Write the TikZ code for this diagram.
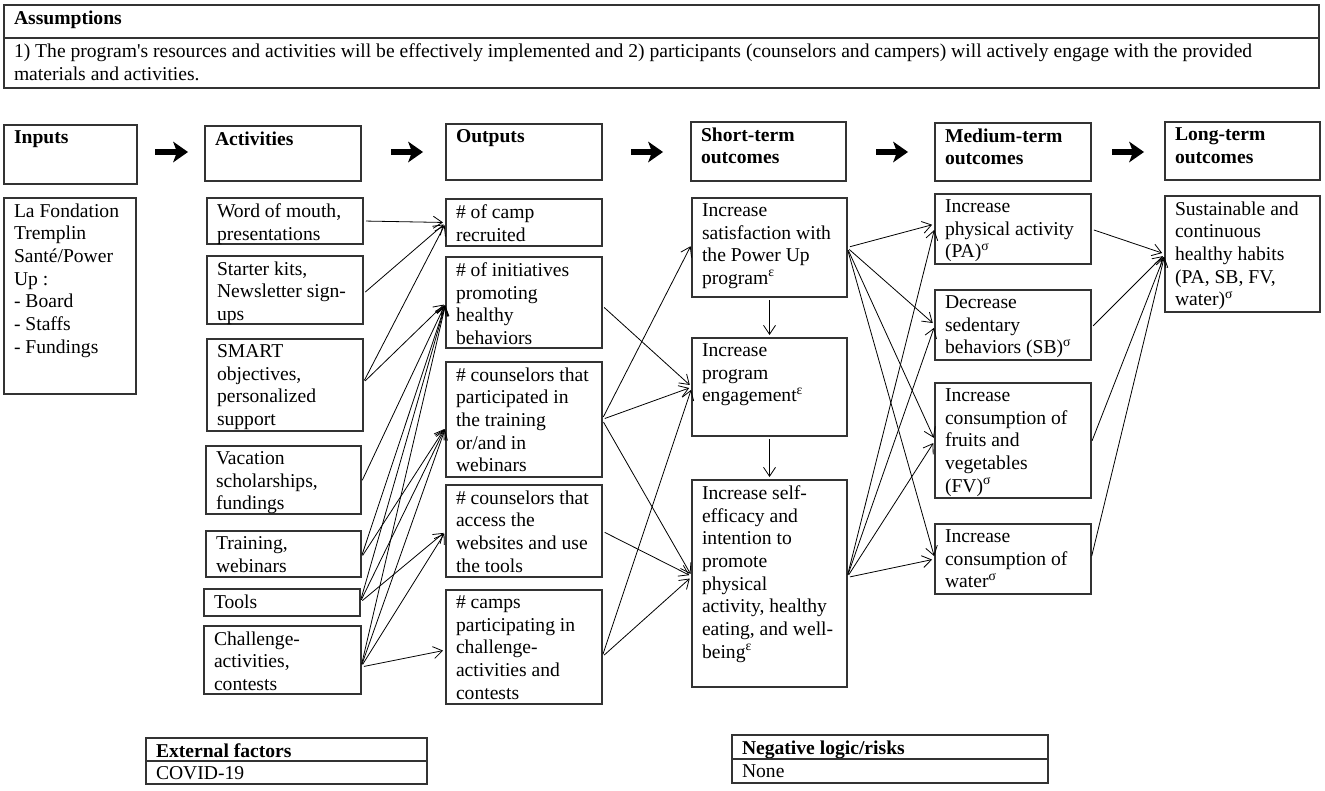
\documentclass[tikz,border=0pt]{standalone}
\usepackage{fontspec}
\setmainfont{Liberation Serif}
\usetikzlibrary{arrows.meta,calc}
\tikzset{
  bx/.style={draw=black!80, line width=1.1pt, inner sep=0pt, outer sep=0pt},
  tx/.style={inner sep=0pt, outer sep=0pt, align=left, font=\fontsize{19.6}{22.7}\selectfont},
  con/.style={-{Straight Barb[length=9pt,width=12pt]}, line width=0.8pt, shorten >=3pt, shorten <=3pt},
  hdr/.style={line width=5.5pt, -{Stealth[length=15pt,width=21pt,inset=4pt,line width=0pt]}}
}
\newcommand\Bx[6]{%
  \node[bx, anchor=north west, minimum width={#4-#2}, minimum height={#5-#3}] (#1) at (#2,-#3) {};
  \node[tx, anchor=north west] (#1-t) at ([xshift=10pt,yshift=-5.5pt]#1.north west) {#6};}
\begin{document}
\begin{tikzpicture}[x=1pt,y=1pt]
\useasboundingbox (0,0) rectangle (1325,-790);
% assumptions
\Bx{asm1}{4}{5}{1319}{38}{\textbf{Assumptions}}
\Bx{asm2}{4}{38}{1319}{88}{1) The program\textquotesingle s resources and activities will be effectively implemented and 2) participants (counselors and campers) will actively engage with the provided\\materials and activities.}
% headers
\Bx{inp}{4}{125}{137}{184}{\textbf{Inputs}}
\Bx{act}{205}{126}{361}{181}{\textbf{Activities}}
\Bx{out}{446}{124}{602}{180}{\textbf{Outputs}}
\Bx{st}{691}{122}{846}{181}{\textbf{Short-term}\\\textbf{outcomes}}
\Bx{mt}{935}{123}{1091}{181}{\textbf{Medium-term}\\\textbf{outcomes}}
\Bx{lt}{1165}{122}{1320}{180}{\textbf{Long-term}\\\textbf{outcomes}}
% header arrows
\coordinate (h1s) at (155,-152); \coordinate (h1e) at (188,-152);
\coordinate (h2s) at (391,-152); \coordinate (h2e) at (423,-152);
\coordinate (h3s) at (631,-152); \coordinate (h3e) at (663,-152);
\coordinate (h4s) at (876,-152); \coordinate (h4e) at (908,-152);
\coordinate (h5s) at (1112,-152); \coordinate (h5e) at (1144,-152);
\draw[hdr] (h1s) -- (h1e);
\draw[hdr] (h2s) -- (h2e);
\draw[hdr] (h3s) -- (h3e);
\draw[hdr] (h4s) -- (h4e);
\draw[hdr] (h5s) -- (h5e);
% inputs
\Bx{inpb}{4}{198}{136}{394}{La Fondation\\Tremplin\\Santé/Power\\Up :\\- Board\\- Staffs\\- Fundings}
% activities
\Bx{a1}{207}{198}{363}{244}{Word of mouth,\\presentations}
\Bx{a2}{207}{256}{363}{324}{Starter kits,\\Newsletter sign-\\ups}
\Bx{a3}{207}{339}{363}{431}{SMART\\objectives,\\personalized\\support}
\Bx{a4}{206}{446}{361}{514}{Vacation\\scholarships,\\fundings}
\Bx{a5}{206}{531}{361}{577}{Training,\\webinars}
\Bx{a6}{204}{589}{360}{616}{Tools}
\Bx{a7}{204}{626}{361}{694}{Challenge-\\activities,\\contests}
% outputs
\Bx{o1}{446}{199}{602}{246}{\# of camp\\recruited}
\Bx{o2}{446}{257}{602}{348}{\# of initiatives\\promoting\\healthy\\behaviors}
\Bx{o3}{446}{362}{602}{477}{\# counselors that\\participated in\\the training\\or/and in\\webinars}
\Bx{o4}{446}{485}{602}{577}{\# counselors that\\access the\\websites and use\\the tools}
\Bx{o5}{446}{590}{602}{704}{\# camps\\participating in\\challenge-\\activities and\\contests}
% short-term
\Bx{s1}{692}{198}{847}{297}{Increase\\satisfaction with\\the Power Up\\program\textsuperscript{ε}}
\Bx{s2}{692}{338}{847}{436}{Increase\\program\\engagement\textsuperscript{ε}}
\Bx{s3}{692}{480}{847}{687}{Increase self-\\efficacy and\\intention to\\promote\\physical\\activity, healthy\\eating, and well-\\being\textsuperscript{ε}}
% medium-term
\Bx{m1}{935}{194}{1091}{264}{Increase\\physical activity\\(PA)\textsuperscript{σ}}
\Bx{m2}{935}{290}{1091}{360}{Decrease\\sedentary\\behaviors (SB)\textsuperscript{σ}}
\Bx{m3}{935}{383}{1091}{498}{Increase\\consumption of\\fruits and\\vegetables\\(FV)\textsuperscript{σ}}
\Bx{m4}{935}{524}{1091}{594}{Increase\\consumption of\\water\textsuperscript{σ}}
% long-term
\Bx{l1}{1165}{196}{1320}{312}{Sustainable and\\continuous\\healthy habits\\(PA, SB, FV,\\water)\textsuperscript{σ}}
% bottom boxes
\Bx{ext1}{146}{738}{427}{761}{\textbf{External factors}}
\Bx{ext2}{146}{761}{427}{784}{COVID-19}
\Bx{neg1}{732}{735}{1048}{759}{\textbf{Negative logic/risks}}
\Bx{neg2}{732}{759}{1048}{783}{None}
% activities -> outputs
\draw[con] (a1.east) -- (o1.west);
\draw[con] ([yshift=-4pt]a2.east) -- (o1.west);
\draw[con] ([yshift=2pt]a3.east) -- (o1.west);
\draw[con] ([yshift=2pt]a3.east) -- (o2.west);
\draw[con] ([yshift=-3pt]a4.east) -- (o2.west);
\draw[con] ([yshift=-4pt]a5.east) -- (o2.west);
\draw[con] ([yshift=-4pt]a5.east) -- ([yshift=-7pt]o3.west);
\draw[con] (a6.east) -- (o2.west);
\draw[con] (a6.east) -- ([yshift=-7pt]o3.west);
\draw[con] (a6.east) -- (o4.west);
\draw[con] ([yshift=-7pt]a7.east) -- (o2.west);
\draw[con] ([yshift=-7pt]a7.east) -- ([yshift=-7pt]o3.west);
\draw[con] ([yshift=-7pt]a7.east) -- (o4.west);
\draw[con] ([yshift=-7pt]a7.east) -- ([yshift=-3pt]o5.west);
% outputs -> short-term
\draw[con] ([yshift=-3pt]o2.east) -- (s2.west);
\draw[con] (o3.east) -- ([yshift=4pt]s1.west);
\draw[con] (o3.east) -- (s2.west);
\draw[con] (o3.east) -- ([yshift=7pt]s3.west);
\draw[con] (o4.east) -- ([yshift=7pt]s3.west);
\draw[con] ([yshift=-10pt]o5.east) -- (s2.west);
\draw[con] ([yshift=-10pt]o5.east) -- ([yshift=7pt]s3.west);
% short-term vertical
\draw[con] (s1.south) -- (s2.north);
\draw[con] (s2.south) -- (s3.north);
% short-term -> medium-term
\draw[con] (s1.east) -- ([yshift=5pt]m1.west);
\draw[con] (s1.east) -- (m2.west);
\draw[con] (s1.east) -- (m3.west);
\draw[con] (s1.east) -- (m4.west);
\draw[con] ([yshift=6pt]s3.east) -- ([yshift=2pt]m1.west);
\draw[con] ([yshift=6pt]s3.east) -- (m2.west);
\draw[con] ([yshift=6pt]s3.east) -- (m3.west);
\draw[con] ([yshift=6pt]s3.east) -- (m4.west);
% medium-term -> long-term
\draw[con] (m1.east) -- (l1.west);
\draw[con] ([yshift=-3pt]m2.east) -- (l1.west);
\draw[con] ([yshift=-3pt]m3.east) -- (l1.west);
\draw[con] (m4.east) -- (l1.west);
\end{tikzpicture}
\end{document}
